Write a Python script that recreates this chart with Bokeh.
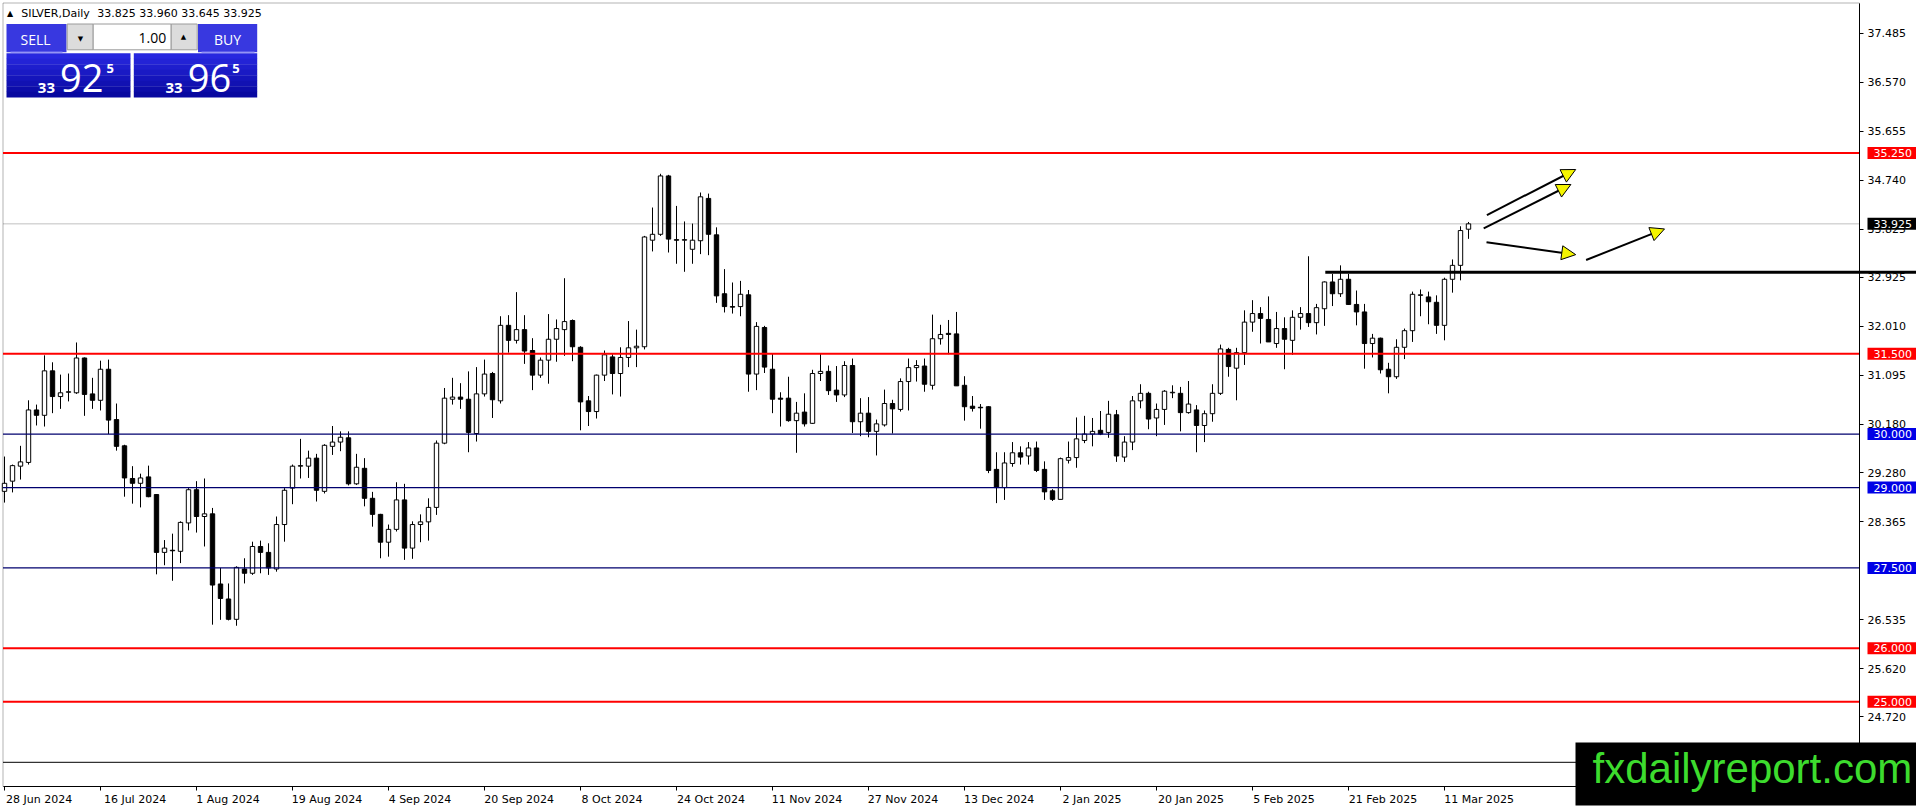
import numpy as np
from bokeh.plotting import figure
from bokeh.models import (Range1d, FixedTicker, PrintfTickFormatter, Label, BoxAnnotation,
                          Arrow, NormalHead, ColumnDataSource, CustomJSTickFormatter)
from bokeh.embed import file_html
from bokeh.resources import INLINE

# ---------------- data ----------------
symbol = "SILVER"
timeframe = "Daily"

opens = [28.93, 29.12, 29.40, 29.47, 30.45, 30.35, 31.18, 30.70, 30.78, 30.77,
         31.42, 30.75, 30.63, 31.21, 30.27, 29.78, 29.17, 29.08, 29.20, 28.87,
         27.79, 27.83, 27.81, 28.34, 28.96, 28.46, 28.51, 27.20, 26.92, 26.54,
         27.48, 27.40, 27.90, 27.79, 27.48, 28.31, 28.99, 29.40, 29.40, 29.55,
         28.93, 29.77, 29.85, 29.93, 29.07, 29.36, 28.80, 28.50, 27.98, 28.22,
         28.77, 27.87, 28.31, 28.36, 28.63, 29.83, 30.65, 30.69, 30.65, 30.01,
         30.75, 31.13, 30.62, 32.03, 31.75, 31.95, 31.56, 31.10, 31.38, 31.77,
         31.95, 32.12, 31.62, 30.62, 30.42, 31.10, 31.44, 31.13, 31.43, 31.61,
         31.63, 33.62, 33.73, 34.82, 33.63, 33.62, 33.45, 33.61, 34.40, 33.72,
         32.62, 32.38, 32.38, 32.60, 31.12, 31.99, 31.21, 30.67, 30.67, 30.25,
         30.41, 30.20, 31.13, 31.17, 30.82, 30.73, 31.28, 30.23, 30.39, 30.05,
         30.17, 30.57, 30.46, 30.98, 31.24, 31.27, 30.91, 31.78, 31.88, 31.87,
         30.91, 30.52, 30.50, 30.51, 29.34, 29.00, 29.45, 29.65, 29.59, 29.74,
         29.34, 28.94, 28.78, 29.51, 29.56, 29.88, 30.00, 30.07, 30.03, 30.36,
         29.57, 29.85, 30.62, 30.76, 30.30, 30.46, 30.77, 30.76, 30.40, 30.45,
         30.16, 30.38, 30.76, 31.58, 31.23, 31.52, 32.09, 32.25, 32.14, 31.69,
         31.97, 31.75, 32.18, 32.25, 32.08, 32.34, 32.84, 32.62, 32.89, 32.42,
         32.28, 31.69, 31.79, 31.21, 31.07, 31.62, 31.93, 32.59, 32.56, 32.46,
         32.03, 32.89, 33.15, 33.825]
highs = [29.58, 29.43, 29.78, 30.63, 30.55, 31.47, 31.34, 31.11, 31.13, 31.71,
         31.43, 31.05, 31.37, 31.39, 30.57, 29.80, 29.40, 29.26, 29.41, 28.88,
         28.02, 28.14, 28.37, 28.99, 29.12, 29.17, 28.62, 27.50, 27.21, 27.53,
         27.68, 27.99, 28.01, 27.96, 28.46, 28.99, 29.43, 29.91, 29.69, 29.63,
         29.81, 30.15, 30.05, 30.05, 29.63, 29.55, 28.92, 28.51, 28.31, 29.10,
         29.07, 28.37, 28.50, 28.80, 29.88, 30.86, 31.05, 30.95, 31.17, 31.25,
         31.39, 31.16, 32.20, 32.22, 32.65, 32.22, 31.79, 31.43, 32.24, 32.14,
         32.91, 32.14, 31.64, 30.71, 31.11, 31.56, 31.49, 31.62, 32.11, 31.95,
         33.70, 34.23, 34.86, 34.84, 34.26, 33.97, 33.93, 34.51, 34.49, 33.86,
         33.08, 32.83, 32.86, 32.69, 32.09, 32.02, 31.50, 30.78, 31.07, 30.60,
         30.76, 31.20, 31.51, 31.28, 31.27, 31.36, 31.41, 30.67, 30.69, 30.27,
         30.83, 30.64, 31.04, 31.41, 31.38, 31.41, 32.23, 32.04, 32.13, 32.28,
         31.08, 30.71, 30.56, 30.52, 29.66, 29.66, 29.85, 29.77, 29.85, 29.86,
         29.49, 28.97, 29.56, 29.86, 30.31, 30.34, 30.30, 30.43, 30.62, 30.45,
         29.96, 30.71, 30.93, 30.79, 30.57, 30.82, 30.91, 30.88, 30.99, 30.54,
         30.44, 30.93, 31.67, 31.61, 31.61, 32.31, 32.50, 32.37, 32.57, 32.28,
         32.18, 32.31, 32.37, 33.32, 32.43, 32.85, 32.99, 33.15, 32.99, 32.68,
         32.43, 31.87, 31.80, 31.33, 31.77, 31.97, 32.66, 32.70, 32.66, 32.59,
         32.92, 33.26, 33.88, 33.960]
lows = [28.72, 28.91, 29.15, 29.43, 30.16, 30.14, 30.39, 30.47, 30.61, 30.75,
        30.34, 30.47, 30.44, 30.00, 29.69, 28.83, 28.70, 28.63, 28.82, 27.38,
        27.55, 27.26, 27.59, 28.20, 28.16, 27.90, 26.44, 26.53, 26.52, 26.42,
        27.21, 27.37, 27.40, 27.37, 27.43, 27.99, 28.69, 29.17, 29.18, 28.74,
        28.89, 29.61, 29.68, 29.04, 29.05, 28.65, 28.27, 27.68, 27.71, 28.18,
        27.65, 27.67, 27.98, 28.01, 28.49, 29.81, 30.55, 30.47, 29.66, 29.86,
        30.70, 30.30, 30.57, 31.52, 31.69, 31.31, 30.82, 31.05, 30.94, 31.35,
        31.46, 31.36, 30.07, 30.15, 30.29, 30.99, 30.74, 30.70, 31.25, 31.25,
        31.58, 33.41, 33.70, 33.39, 33.18, 33.03, 33.18, 33.36, 33.34, 32.45,
        32.27, 32.25, 32.20, 30.79, 30.82, 31.14, 30.39, 30.14, 30.23, 29.65,
        30.14, 30.19, 30.99, 30.73, 30.60, 30.69, 30.02, 29.96, 29.94, 29.60,
        30.14, 30.01, 30.42, 30.44, 30.98, 30.79, 30.83, 31.67, 31.49, 30.90,
        30.25, 30.42, 30.10, 29.27, 28.71, 28.77, 29.39, 29.43, 29.43, 29.29,
        28.77, 28.75, 28.78, 29.45, 29.37, 29.83, 29.77, 29.98, 29.93, 29.48,
        29.48, 29.70, 30.48, 30.09, 29.96, 30.17, 30.67, 30.05, 30.38, 29.66,
        29.85, 30.23, 30.73, 31.07, 30.63, 31.29, 31.91, 31.69, 31.72, 31.61,
        31.21, 31.48, 31.95, 32.00, 31.86, 32.02, 32.39, 32.56, 32.41, 32.03,
        31.22, 31.43, 31.13, 30.76, 31.03, 31.40, 31.72, 32.20, 32.05, 31.87,
        31.75, 32.64, 32.87, 33.645]
closes = [29.08, 29.41, 29.48, 30.45, 30.35, 31.18, 30.70, 30.77, 30.79, 31.42,
          30.74, 30.63, 31.21, 30.26, 29.77, 29.18, 29.08, 29.18, 28.83, 27.79,
          27.87, 27.82, 28.35, 28.96, 28.46, 28.51, 27.18, 26.93, 26.54, 27.51,
          27.40, 27.90, 27.79, 27.50, 28.31, 28.95, 29.40, 29.41, 29.55, 28.95,
          29.79, 29.85, 29.94, 29.07, 29.38, 28.80, 28.50, 27.98, 28.22, 28.77,
          27.87, 28.31, 28.36, 28.63, 29.83, 30.67, 30.69, 30.65, 30.03, 30.75,
          31.12, 30.64, 32.03, 31.75, 31.95, 31.55, 31.10, 31.38, 31.77, 31.97,
          32.10, 31.63, 30.60, 30.42, 31.10, 31.48, 31.13, 31.43, 31.61, 31.64,
          33.68, 33.73, 34.82, 33.64, 33.62, 33.63, 33.62, 34.43, 33.73, 32.58,
          32.38, 32.37, 32.61, 31.12, 32.01, 31.25, 30.65, 30.65, 30.25, 30.39,
          30.19, 31.13, 31.17, 30.81, 30.73, 31.28, 30.23, 30.39, 30.05, 30.19,
          30.57, 30.47, 30.98, 31.24, 31.28, 30.93, 31.78, 31.86, 31.86, 30.90,
          30.51, 30.48, 30.49, 29.32, 29.00, 29.46, 29.65, 29.57, 29.74, 29.32,
          28.92, 28.78, 29.54, 29.56, 29.91, 30.00, 30.05, 30.00, 30.37, 29.59,
          29.85, 30.62, 30.76, 30.28, 30.46, 30.80, 30.78, 30.40, 30.56, 30.16,
          30.38, 30.76, 31.59, 31.26, 31.52, 32.09, 32.25, 32.16, 31.72, 31.97,
          31.77, 32.18, 32.25, 32.08, 32.36, 32.84, 32.62, 32.89, 32.42, 32.28,
          31.69, 31.79, 31.20, 31.07, 31.62, 31.93, 32.61, 32.60, 32.47, 32.03,
          32.89, 33.15, 33.80, 33.925]

tick_bars = [0, 12, 24, 36, 48, 60, 72, 84, 96, 108, 120, 132, 144, 156, 168, 180]
tick_labels = ["28 Jun 2024", "16 Jul 2024", "1 Aug 2024", "19 Aug 2024", "4 Sep 2024",
               "20 Sep 2024", "8 Oct 2024", "24 Oct 2024", "11 Nov 2024", "27 Nov 2024",
               "13 Dec 2024", "2 Jan 2025", "20 Jan 2025", "5 Feb 2025", "21 Feb 2025",
               "11 Mar 2025"]
price_ticks = [37.485, 36.570, 35.655, 34.740, 33.825, 32.925, 32.010, 31.095,
               30.180, 29.280, 28.365, 26.535, 25.620, 24.720]

red_levels = [35.25, 31.5, 26.0, 25.0]
blue_levels = [30.0, 29.0, 27.5]
lower_line = 23.87
break_line_start_bar = 165.1
break_line_price = 33.02

arrow_x0 = [185.3, 184.9, 185.25, 197.7]
arrow_y0 = [34.09, 33.84, 33.58, 33.25]
arrow_x1 = [196.4, 195.8, 196.4, 207.5]
arrow_y1 = [34.94, 34.66, 33.35, 33.83]

bid = 33.925
ask = 33.965
lot = "1.00"
site = "fxdailyreport.com"

# ---------------- layout (page pixels <-> data) ----------------
W, H = 1916, 810
BAR_PX = 8                 # pixels per bar
X_START = -0.5             # bar coordinate at the page's left edge
X_END = X_START + W / BAR_PX
PPY = 53.55                # pixels per price unit
Y_TOP = 38.096             # price at the page's top edge
Y_BOT = Y_TOP - H / PPY
FONT = "DejaVu Sans"
UI_FONT = "Open Sans"


def xd(px):
    return X_START + px / BAR_PX


def yd(py):
    return Y_TOP - py / PPY


X_L, X_AX = xd(2.5), xd(1859)      # chart left border / price-scale line
Y_T, Y_AX = yd(2.5), yd(786)       # chart top border / time-scale line

p = figure(width=W, height=H, x_range=Range1d(X_START, X_END), y_range=Range1d(Y_BOT, Y_TOP),
           output_backend="svg", toolbar_location=None, y_axis_location="right",
           min_border=0, min_border_left=0, min_border_top=0, min_border_right=0,
           min_border_bottom=0, outline_line_color=None,
           background_fill_color="white", border_fill_color="white")
p.xgrid.visible = False
p.ygrid.visible = False

# ---- axes (drawn at the chart border inside the canvas) ----
xa = p.xaxis[0]
xa.fixed_location = Y_AX
xa.bounds = (X_L, X_AX)
label_pos = [b + (len(s) * 6.1 / 2 + 1) / BAR_PX for b, s in zip(tick_bars, tick_labels)]
xa.ticker = FixedTicker(ticks=label_pos, minor_ticks=tick_bars)
xa.formatter = CustomJSTickFormatter(args=dict(pos=label_pos, labels=tick_labels), code="""
let best = -1, bd = 1e9;
for (let i = 0; i < pos.length; i++) { const d = Math.abs(pos[i] - tick); if (d < bd) { bd = d; best = i; } }
return bd < 0.01 ? labels[best] : "";
""")
xa.major_tick_line_color = None
xa.major_tick_out = 4
xa.major_tick_in = 0
xa.minor_tick_line_color = "black"
xa.minor_tick_out = 4
xa.minor_tick_in = 0
xa.major_label_standoff = 2
xa.axis_line_color = "black"
xa.major_label_text_font = FONT
xa.major_label_text_font_size = "11px"
xa.major_label_text_color = "black"

ya = p.yaxis[0]
ya.fixed_location = X_AX
ya.bounds = (Y_AX, Y_T)
ya.ticker = FixedTicker(ticks=price_ticks)
ya.formatter = PrintfTickFormatter(format="%.3f")
ya.major_tick_out = 4
ya.major_tick_in = 0
ya.minor_tick_line_color = None
ya.major_label_standoff = 4
ya.axis_line_color = "black"
ya.major_label_text_font = FONT
ya.major_label_text_font_size = "11px"
ya.major_label_text_color = "black"

# ---- chart border ----
p.add_layout(BoxAnnotation(left=X_L, right=X_AX, top=Y_T, bottom=Y_AX, fill_alpha=0.0,
                           line_color="black", line_width=1, level="underlay"))

# ---- current price line (behind candles) ----
p.segment(x0=[X_L], y0=[closes[-1]], x1=[X_AX], y1=[closes[-1]], line_color="#c0c0c0",
          line_width=1, level="underlay")

# ---- candles ----
idx = np.arange(len(opens))
o = np.array(opens); h = np.array(highs); l = np.array(lows); c = np.array(closes)
up = c >= o
p.segment(x0=idx, y0=h, x1=idx, y1=l, line_color="black", line_width=1)
p.vbar(x=idx[up], width=0.55, top=c[up], bottom=o[up], fill_color="white", line_color="black",
       line_width=1)
p.vbar(x=idx[~up], width=0.55, top=o[~up], bottom=c[~up], fill_color="black", line_color="black",
       line_width=1)

# ---- horizontal levels ----
n_r, n_b = len(red_levels), len(blue_levels)
p.segment(x0=[X_L] * n_r, y0=red_levels, x1=[X_AX] * n_r, y1=red_levels,
          line_color="#ff0000", line_width=2)
p.segment(x0=[X_L] * n_b, y0=blue_levels, x1=[X_AX] * n_b, y1=blue_levels,
          line_color="#00006e", line_width=1.3)
p.segment(x0=[X_L], y0=[lower_line], x1=[X_AX], y1=[lower_line], line_color="black",
          line_width=1)
p.segment(x0=[break_line_start_bar], y0=[break_line_price], x1=[X_END], y1=[break_line_price],
          line_color="black", line_width=3)

# ---- arrows ----
arrow_src = ColumnDataSource(dict(x0=arrow_x0, y0=arrow_y0, x1=arrow_x1, y1=arrow_y1))
p.add_layout(Arrow(end=NormalHead(size=14, fill_color="#f5f500", line_color="black", line_width=1),
                   x_start="x0", y_start="y0", x_end="x1", y_end="y1", source=arrow_src,
                   line_color="black", line_width=2))


# ---- price boxes on the price scale ----
def level_label(lvl, bg):
    p.add_layout(Label(x=X_AX, y=lvl, x_offset=8, text=f"{lvl:.3f}", text_color="white",
                       text_font=FONT, text_font_size="11px", text_baseline="middle",
                       text_align="left", background_fill_color=bg,
                       padding=dict(left=6, right=5, top=2, bottom=2)))


for lvl in red_levels:
    level_label(lvl, "#ff0000")
for lvl in blue_levels:
    level_label(lvl, "#0000e6")
level_label(closes[-1], "black")


# ---- helpers for the overlay widgets (page pixel positions) ----
def box(x0, x1, y0, y1, color, line=None):
    p.add_layout(BoxAnnotation(left=xd(x0), right=xd(x1), top=yd(y0), bottom=yd(y1),
                               fill_color=color, fill_alpha=1.0,
                               line_color=line if line else color,
                               line_alpha=1.0 if line else 0.0, line_width=1, level="overlay"))


def txt(s, x, y, size, color, align="left", font=FONT, style="normal"):
    p.add_layout(Label(x=xd(x), y=yd(y), text=s, text_color=color, text_font=font,
                       text_font_size=size, text_align=align, text_baseline="middle",
                       text_font_style=style, level="overlay"))


# ---- header ----
txt("\u25B2", 9.5, 13, "8px", "black", align="center")
txt(f"{symbol},{timeframe}", 20.7, 13, "11px", "black")
txt(f"{opens[-1]:.3f} {highs[-1]:.3f} {lows[-1]:.3f} {closes[-1]:.3f}", 96.7, 13, "11px", "black")

# ---- one-click trading panel ----
TOP = "#3838e0"
box(6, 66, 23.5, 51.7, TOP)
box(197.5, 256.7, 23.5, 51.7, TOP)
c0 = np.array([0x2a, 0x2a, 0xe4]); c1 = np.array([0x06, 0x06, 0x9c])
n_bands = 8
edges = np.linspace(52.7, 96.7, n_bands + 1)
for k in range(n_bands):
    col = c0 + (c1 - c0) * (k + 0.5) / n_bands
    hexcol = "#%02x%02x%02x" % tuple(int(v) for v in col)
    box(6, 130, edges[k], edges[k + 1] + 0.4, hexcol)
    box(133.3, 256.7, edges[k], edges[k + 1] + 0.4, hexcol)
box(66.7, 92.7, 23.5, 49.3, "#dcdcdc", "#9a9a9a")
box(92.7, 170.7, 23.5, 49.3, "white", "#9a9a9a")
box(170.7, 196.7, 23.5, 49.3, "#dcdcdc", "#9a9a9a")
box(10, 62, 51.0, 52.2, "#8080f4")
box(201, 254, 51.0, 52.2, "#8080f4")

txt("SELL", 35, 39, "14px", "white", align="center", font=UI_FONT)
txt("BUY", 227, 39, "14px", "white", align="center", font=UI_FONT)
txt("\u25BC", 80, 38, "7px", "black", align="center")
txt("\u25B2", 183, 36.5, "7px", "black", align="center")
txt(lot, 165.7, 37.5, "14px", "black", align="right", font=UI_FONT)

bid_s, ask_s = f"{bid:.3f}", f"{ask:.3f}"
for s, x_small, x_big, x_sup in [(bid_s, 37.3, 59.5, 106), (ask_s, 165, 187.2, 231.7)]:
    txt(s[:2], x_small, 87, "15px", "white", font=UI_FONT, style="bold")
    txt(s[3:5], x_big, 77.5, "38px", "white", font=UI_FONT)
    txt(s[5], x_sup, 67.5, "13px", "white", font=UI_FONT, style="bold")

# ---- site logo ----
p.add_layout(Label(x=xd(1575), y=yd(773.4), text=site, text_color="#3ddc2e",
                   text_font="Liberation Sans", text_font_size="42px", text_align="left",
                   text_baseline="middle", background_fill_color="black",
                   padding=dict(left=17, right=30, top=3, bottom=13), level="overlay"))

open("out.html", "w").write(file_html(p, INLINE))
